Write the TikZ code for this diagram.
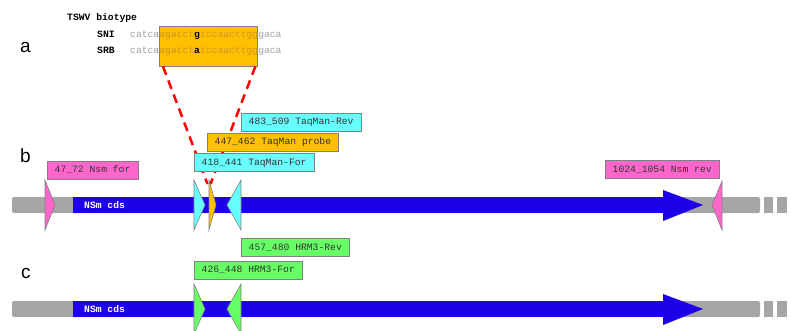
\documentclass[tikz,border=0pt]{standalone}
\usepackage{fontspec}
\setmainfont{Liberation Sans}
\setsansfont{Liberation Sans}
\setmonofont{Liberation Mono}
\definecolor{nsmblue}{RGB}{30,0,230}
\definecolor{bargray}{RGB}{166,166,166}
\definecolor{seqgray}{RGB}{160,160,160}
\definecolor{seqin}{RGB}{205,150,40}
\definecolor{pinkc}{RGB}{255,102,204}
\definecolor{cyanc}{RGB}{102,255,255}
\definecolor{goldc}{RGB}{255,192,0}
\definecolor{greenc}{RGB}{102,255,102}
\definecolor{edgec}{RGB}{128,128,128}

\begin{document}
\begin{tikzpicture}[x=1pt,y=-1pt,
    panel/.style={font=\fontsize{19}{22}\selectfont, inner sep=0pt, anchor=base west},
    mono/.style={font=\ttfamily\fontsize{9.7}{11}\selectfont, inner sep=0pt, anchor=base west},
    monobf/.style={mono, font=\ttfamily\bfseries\fontsize{9.7}{11}\selectfont},
    lab/.style={draw=edgec, font=\ttfamily\fontsize{9.7}{11}\selectfont, text=black!80, anchor=west,
        inner xsep=7.5pt, inner ysep=0pt, minimum height=18pt, text height=7pt, text depth=2pt},
    primer/.style={draw=edgec, line width=0.6pt},
    zoomline/.style={red, line width=2.5pt, dash pattern=on 9pt off 6pt}]
    \clip (0,0) rectangle (791,331);
    % a: SNP between the two biotypes
    \node[panel] (pa) at (20,53) {a};
    \node[draw=edgec, fill=goldc, anchor=north west, inner sep=0pt, minimum width=98pt, minimum height=40pt] (snpbox) at (159,26) {};
    \node[monobf] (biotype) at (67,20.5) {TSWV biotype};
    \node[monobf] (sni) at (97,38) {SNI};
    \node[monobf] (srb) at (97,54) {SRB};
    \node[mono] (sniseq) at (130,38) {\textcolor{seqgray}{catca}\textcolor{seqin}{agatct}\textbf{g}\textcolor{seqin}{tccaacttgg}\textcolor{seqgray}{gaca}};
    \node[mono] (srbseq) at (130,54) {\textcolor{seqgray}{catca}\textcolor{seqin}{agatct}\textbf{a}\textcolor{seqin}{tccaacttgg}\textcolor{seqgray}{gaca}};
    % b and c: NSm gene
    \node[panel] (pb) at (20,163) {b};
    \node[panel] (pc) at (21,278) {c};
    \foreach \yc in {205,309} {
        \fill[bargray, rounded corners=2pt] (12,\yc-8) rectangle (760,\yc+8);
        \fill[bargray] (764,\yc-8) rectangle (773,\yc+8);
        \fill[bargray] (777,\yc-8) rectangle (787,\yc+8);
        \fill[bargray] (791,\yc-8) rectangle (800,\yc+8);
        \fill[nsmblue] (73,\yc-8) rectangle (664,\yc+8);
        \fill[nsmblue] (663,\yc-15) -- (703,\yc) -- (663,\yc+16) -- cycle;
        \node[monobf, text=white] (cds\yc) at (84,\yc+3.5) {NSm cds};
    }
    \coordinate (vleft) at (207.5,184);
    \coordinate (vright) at (210.5,184);
    \draw[zoomline] ([xshift=4pt]snpbox.south west) -- (vleft);
    \draw[zoomline] ([xshift=-2pt]snpbox.south east) -- (vright);
    % primers
    \filldraw[primer, fill=pinkc] (45,180) -- (55,205) -- (45,230) -- cycle;
    \filldraw[primer, fill=cyanc] (194,180) -- (205,205) -- (194,230) -- cycle;
    \filldraw[primer, fill=goldc] (209,180) -- (216,205) -- (209,230) -- cycle;
    \filldraw[primer, fill=cyanc] (241,180) -- (227,205) -- (241,230) -- cycle;
    \filldraw[primer, fill=pinkc] (722,181) -- (712,205) -- (722,230) -- cycle;
    \filldraw[primer, fill=greenc] (194,284) -- (205,309) -- (194,334) -- cycle;
    \filldraw[primer, fill=greenc] (241,284) -- (227,309) -- (241,334) -- cycle;
    \node[lab, fill=pinkc] (nsmfor) at (47,170) {47\_72 Nsm for};
    \node[lab, fill=cyanc] (tqfor) at (194,162.5) {418\_441 TaqMan-For};
    \node[lab, fill=goldc] (tqprobe) at (207,142) {447\_462 TaqMan probe};
    \node[lab, fill=cyanc] (tqrev) at (241,122) {483\_509 TaqMan-Rev};
    \node[lab, fill=pinkc] (nsmrev) at (605,169.5) {1024\_1054 Nsm rev};
    \node[lab, fill=greenc] (hrmfor) at (194,270) {426\_448 HRM3-For};
    \node[lab, fill=greenc] (hrmrev) at (241,247.5) {457\_480 HRM3-Rev};
\end{tikzpicture}
\end{document}
